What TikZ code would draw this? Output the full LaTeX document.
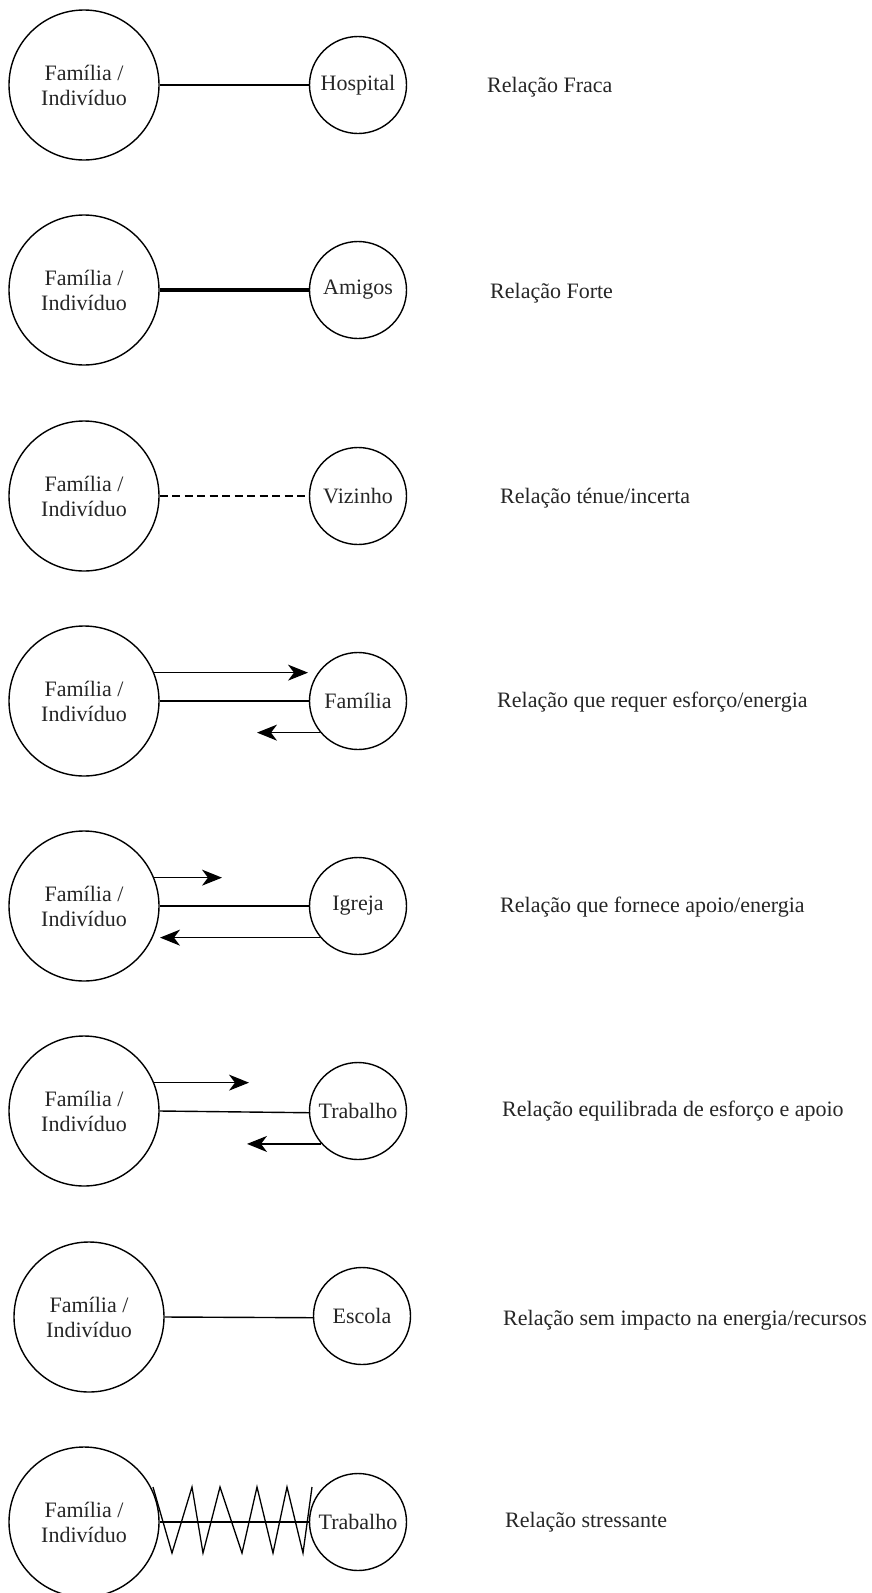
\documentclass[tikz,border=0pt]{standalone}
\usepackage{fontspec}
\setmainfont{Liberation Serif}
\usetikzlibrary{arrows.meta}
\begin{document}
\begin{tikzpicture}[x=1pt,y=-1pt,
  every node/.style={font=\fontsize{22}{25}\selectfont, text=black!85},
  big/.style={draw, circle, line width=1.4pt, minimum size=150pt, inner sep=0pt, align=center},
  small/.style={draw, circle, line width=1.4pt, minimum size=97pt, inner sep=0pt},
  conn/.style={line width=1.4pt},
  arr/.style={line width=1.4pt, -{Stealth[length=20pt,width=16pt,inset=6pt]}},
  lbl/.style={anchor=west, inner sep=0pt}]
\useasboundingbox (0,0) rectangle (872,1593);
\fill[white] (0,0) rectangle (872,1593);
% Row 1
\node[big] (b1) at (84,85) {Família /\\Indivíduo};
\node[small] (s1) at (358,85) {Hospital};
\draw[conn] (b1.east) -- (s1.west);
\node[lbl] (l1) at (487,87) {Relação Fraca};
% Row 2
\node[big] (b2) at (84,290) {Família /\\Indivíduo};
\node[small] (s2) at (358,290) {Amigos};
\draw[line width=4.5pt] (b2.east) -- (s2.west);
\node[lbl] (l2) at (490,293) {Relação Forte};
% Row 3
\node[big] (b3) at (84,496) {Família /\\Indivíduo};
\node[small] (s3) at (358,496) {Vizinho};
\draw[conn, dash pattern=on 8pt off 4.5pt] (b3.east) -- (s3.west);
\node[lbl] (l3) at (500,498) {Relação ténue/incerta};
% Row 4
\node[big] (b4) at (84,701) {Família /\\Indivíduo};
\node[small] (s4) at (358,701) {Família};
\draw[conn] (b4.east) -- (s4.west);
\coordinate (t4) at (308,671);
\coordinate (u4) at (257,732);
\draw[arr] (b4.22.7) -- (b4.22.7 -| t4);
\draw[arr] (s4.220) -- (s4.220 -| u4);
\node[lbl] (l4) at (497,702) {Relação que requer esforço/energia};
% Row 5
\node[big] (b5) at (84,906) {Família /\\Indivíduo};
\node[small] (s5) at (358,906) {Igreja};
\draw[conn] (b5.east) -- (s5.west);
\coordinate (t5) at (222,877);
\coordinate (u5) at (160,937);
\draw[arr] (b5.22.7) -- (b5.22.7 -| t5);
\draw[arr] (s5.220) -- (s5.220 -| u5);
\node[lbl] (l5) at (500,907) {Relação que fornece apoio/energia};
% Row 6
\node[big] (b6) at (84,1111) {Família /\\Indivíduo};
\node[small] (s6) at (358,1111) {Trabalho};
\draw[conn] (b6.east) -- (s6.182);
\coordinate (t6) at (249,1082);
\coordinate (u6) at (247,1143);
\draw[arr] (b6.22.7) -- (b6.22.7 -| t6);
\draw[arr] (s6.222) -- (s6.222 -| u6);
\node[lbl] (l6) at (502,1111) {Relação equilibrada de esforço e apoio};
% Row 7
\node[big] (b7) at (89,1317) {Família /\\Indivíduo};
\node[small] (s7) at (362,1316) {Escola};
\draw[conn] (b7.east) -- (s7.182);
\node[lbl] (l7) at (503,1320) {Relação sem impacto na energia/recursos};
% Row 8
\node[big] (b8) at (84,1522) {Família /\\Indivíduo};
\node[small] (s8) at (358,1522) {Trabalho};
\draw[conn] (b8.east) -- (s8.west);
\draw[line width=1.3pt, line join=miter] (153,1487) -- (172,1553) -- (192,1487) -- (203,1553) -- (220,1487) -- (242,1553) -- (257,1487) -- (273,1553) -- (287,1487) -- (303,1553) -- (312,1487);
\node[lbl] (l8) at (505,1522) {Relação stressante};
\end{tikzpicture}
\end{document}
